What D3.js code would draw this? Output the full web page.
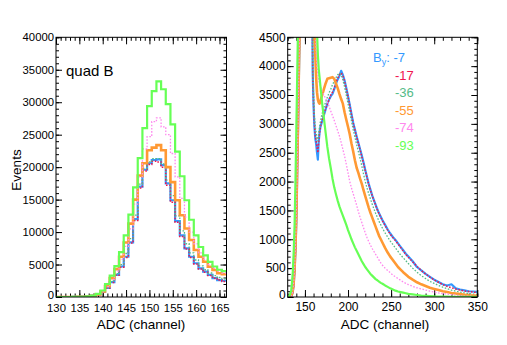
<!DOCTYPE html>
<html><head><meta charset="utf-8">
<script src="https://cdn.jsdelivr.net/npm/d3@7"></script>
<style>body{margin:0;background:#fff}svg{display:block;font-family:"Liberation Sans",Arial,Helvetica,sans-serif}</style>
</head><body><svg id="c" width="507" height="345"></svg>
<script>
// ---------- data ----------
const leftADC = [130,131,132,133,134,135,136,137,138,139,140,141,142,143,144,145,146,147,148,149,150,151,152,153,154,155,156,157,158,159,160,161,162,163,164,165,166];
const lBy7  = [0,0,0,0,10,25,50,100,200,400,800,1400,2300,3400,4700,6200,8400,12000,17000,19600,20600,21100,21200,20300,17500,14900,11700,9500,7500,6200,5200,4400,3900,3400,2900,2600,2500];
const lBy17 = [0,0,0,0,10,20,50,100,200,380,780,1350,2250,3350,4600,6100,8300,11800,16800,19400,20400,20900,20800,20000,17200,14600,11500,9300,7400,6100,5100,4300,3800,3300,2900,2600,2400];
const lBy36 = [0,0,0,0,10,25,55,110,220,430,850,1500,2400,3600,5000,6700,9000,12600,17400,19800,20800,21300,21300,20500,18000,15600,12500,10200,8200,6800,5700,4800,4200,3700,3300,3000,2800];
const lBy55 = [0,0,0,0,10,20,40,80,170,400,850,1700,2900,4300,6200,8400,11300,15000,18700,20600,22600,23000,23400,22600,20000,17700,14900,12600,10560,8770,7230,6200,5430,4670,4150,3650,3500];
const lBy74 = [0,0,0,0,10,20,45,90,180,400,850,1600,2700,4000,5800,7800,10500,14300,18500,22800,24700,27000,27600,26200,25000,22100,18500,15200,12300,10000,8200,6800,5800,5000,4400,4000,3700];
const lBy93 = [0,0,0,0,10,20,40,90,200,480,1000,2000,3300,4750,6900,9500,12700,16900,21400,26000,29400,31700,33200,32000,29700,26600,22400,18600,14900,11900,9500,7700,6400,5400,4700,4200,4000];

const rightADC = [130,132,134,135,136,137,138,139,140,141,142,143,144,146,148,150,152,154,156,158,159,160,161,162,163,164,165,166,167,168,169,170,172,174,176,178,180,182,184,186,188,190,192,194,196,198,200,202,204,206,208,210,212,214,216,218,220,222,224,226,228,230,232,234,236,238,240,243,246,249,252,255,258,261,264,267,270,275,280,285,290,295,300,305,310,315,320,325,330,335,340,345,350];
const rBy7  = [0,0,10, 40,100,220,450,800,1300,2100,2900,3800,4700, 7000,8000,9000,9000,8500,7500,6000, 3900,3300,2950,2750,2650,2500,2380,2700,2850,2950,3000,3050,
  3150,3250,3350,3420,3480,3520,3600,3700,3770,3830,3920,3850,3750,3620,3480,3330,3170,3020,2900,2780,2670,2560,2450,2330,2200,2080,1960,1860,1760,1680,1600,1520,1450,1390,1330,
  1250,1170,1100,1040,990,930,870,810,750,700, 620,520,460,400,350,300,260,220,200,220,150,130,115,100,95,90];
const rBy17 = [0,0,10, 35,90,210,430,780,1280,2050,2850,3750,4650, 6900,7900,8900,8900,8400,7400,5900, 4000,3350,3000,2800,2700,2600,2500,2700,2850,2950,3020,3080,
  3170,3260,3340,3420,3500,3550,3620,3720,3790,3850,3880,3840,3740,3600,3470,3320,3160,3010,2890,2770,2660,2550,2430,2310,2190,2070,1950,1850,1760,1670,1590,1510,1440,1380,1320,
  1240,1160,1090,1030,980,920,860,800,740,690, 610,530,460,400,345,295,255,215,185,160,140,120,105,95,85,80];
const rBy36 = [0,0,10, 40,100,230,470,820,1350,2150,3000,3900,4800, 7100,8200,9100,9100,8600,7600,6200, 4300,3500,3150,2950,2850,2750,2700,2850,2950,3050,3120,3180,
  3280,3380,3460,3540,3600,3680,3740,3800,3850,3880,3850,3760,3640,3500,3350,3200,3050,2900,2770,2640,2520,2400,2270,2130,2000,1890,1790,1700,1610,1530,1450,1380,1310,1250,1190,
  1110,1040,970,910,850,790,730,680,630,580, 500,430,370,320,270,235,200,170,145,120,100,85,70,60,50,45];
const rBy55 = [0,0,15, 50,120,260,500,870,1400,2200,3050,3950,4850, 7200,8400,9300,9300,8800,7800,6600, 5800,5000,4600,4200,3800,3550,3420,3370,3350,3400,3450,3500,
  3600,3700,3780,3790,3800,3810,3780,3700,3620,3520,3430,3350,3200,3070,2950,2820,2660,2520,2370,2240,2150,2050,1960,1850,1750,1650,1550,1460,1380,1300,1220,1140,1060,1000,940,
  850,770,700,640,580,520,475,430,390,350, 300,255,220,190,160,140,120,100,85,70,60,50,40,30,25,20];
const rBy74 = [0,0,15, 50,130,280,520,900,1450,2250,3100,4000,4900, 7400,8600,9500,9600,9200,8300,7200, 6500,5800,5200,4700,4300,4000,3850,3750,3700,3650,3600,3560,
  3500,3440,3380,3300,3220,3140,3060,2970,2880,2790,2680,2560,2440,2300,2150,2000,1890,1790,1690,1590,1480,1380,1290,1200,1110,1030,960,900,840,790,740,690,640,590,550,
  500,460,420,380,350,320,290,260,237,215, 185,160,140,121,100,85,70,60,50,40,32,25,20,15,12,10];
const rBy93 = [0,20,100, 250,450,800,1250,2000,2900,3800,4700,5600,6500, 8000,9000,9800,10000,9800,9200,8200, 7600,7000,6400,5800,5200,4600,4200,3950,3800,3650,3500,3350,
  3100,2850,2600,2400,2230,2050,1900,1780,1670,1570,1490,1410,1330,1250,1160,1080,1000,930,860,800,740,680,620,570,520,480,440,400,370,340,310,290,265,245,230,
  200,175,150,130,110,95,85,75,65,55, 45,35,25,20,15,10,8,6,5,4,3,2,2,1,1,0];

const legendLabels = ["-7","-17","-36","-55","-74","-93"];
const leftXTicks = [130,135,140,145,150,155,160,165];
const leftYTicks = [0,5000,10000,15000,20000,25000,30000,35000,40000];
const rightXTicks = [150,200,250,300,350];
const rightYTicks = [0,500,1000,1500,2000,2500,3000,3500,4000,4500];

// ---------- styles ----------
const colors = ["#3399ff","#f0174f","#55bb88","#ff9933","#ff88ee","#66ff55"];
const widths = [2.2,1.5,1.3,2.6,1.3,2.2];
const dashes = [null,"1.6,1.6","1.6,1.6",null,"1.6,1.6",null];

const svg = d3.select("#c");
const top0 = 37.3, bot0 = 297;
const fmt = d3.format("d");

function panel(id, x, y, xMaj, xMin, yMaj, yMin, fs, yPad, xPad) {
  const [x0, x1] = x.range();
  const g = svg.append("g");
  svg.append("clipPath").attr("id", id).append("rect")
    .attr("x", x0).attr("y", top0).attr("width", x1 - x0).attr("height", bot0 - top0);
  const ax = (a, tr, vals, size, labels, pad) => {
    const axis = a.tickValues(vals).tickSize(size).tickPadding(pad || 3);
    axis.tickFormat(labels ? fmt : "");
    const s = g.append("g").attr("transform", tr).call(axis);
    s.select(".domain").remove();
    s.selectAll("line").attr("stroke", "#000").attr("stroke-width", 1);
    s.selectAll("text").attr("font-size", fs).attr("fill", "#000").attr("font-family", '"Liberation Sans",Arial,sans-serif');
    return s;
  };
  ax(d3.axisBottom(x), `translate(0,${bot0})`, xMaj, -7, true, xPad);
  ax(d3.axisBottom(x), `translate(0,${bot0})`, xMin, -3.5, false);
  ax(d3.axisTop(x), `translate(0,${top0})`, xMaj, -7, false);
  ax(d3.axisTop(x), `translate(0,${top0})`, xMin, -3.5, false);
  const ly = ax(d3.axisLeft(y), `translate(${x0},0)`, yMaj, -6, true, yPad);
  // lift the "0" label slightly so it clears the x tick labels
  ly.selectAll("text").filter(d => d === 0).attr("dy", "0.12em");
  ax(d3.axisLeft(y), `translate(${x0},0)`, yMin, -3, false);
  ax(d3.axisRight(y), `translate(${x1},0)`, yMaj, -6, false);
  ax(d3.axisRight(y), `translate(${x1},0)`, yMin, -3, false);
  return g;
}

// ---------- left panel ----------
const xL = d3.scaleLinear([130, 166.5], [56, 226.5]);
const yL = d3.scaleLinear([0, 40000], [bot0, top0]);
const gL = panel("clipL", xL, yL, leftXTicks, d3.range(130, 167, 1), leftYTicks, d3.range(0, 40001, 1000), "11.3px", 2, 6.5);
const leftSeries = [lBy7, lBy17, lBy36, lBy55, lBy74, lBy93];
const stepLine = d3.line().x(d => xL(d[0])).y(d => yL(d[1]));
leftSeries.forEach((vals, i) => {
  const pts = [];
  leftADC.forEach((a, j) => { pts.push([a - 0.5, vals[j]]); pts.push([a + 0.5, vals[j]]); });
  gL.append("path").attr("clip-path", "url(#clipL)")
    .attr("d", stepLine(pts)).attr("fill", "none")
    .attr("stroke", colors[i]).attr("stroke-width", widths[i])
    .attr("stroke-dasharray", dashes[i]);
});
gL.append("rect").attr("x", 56).attr("y", top0).attr("width", 170.5).attr("height", bot0 - top0)
  .attr("fill", "none").attr("stroke", "#000").attr("stroke-width", 1);
svg.append("text").attr("x", 66).attr("y", 76).attr("font-size", "15px").text("quad B");
svg.append("text").attr("transform", "translate(21,170) rotate(-90)").attr("text-anchor", "middle")
  .attr("font-size", "13.5px").text("Events");
svg.append("text").attr("x", 141).attr("y", 329).attr("text-anchor", "middle").attr("font-size", "13.5px").text("ADC (channel)");

// ---------- right panel ----------
const xR = d3.scaleLinear([130, 350], [287.7, 477.3]);
const yR = d3.scaleLinear([0, 4500], [bot0, top0]);
const gR = panel("clipR", xR, yR, rightXTicks, d3.range(130, 351, 10), rightYTicks, d3.range(0, 4501, 100), "12px", 2, 5);
const rightSeries = [rBy7, rBy17, rBy36, rBy55, rBy74, rBy93];
const rLine = d3.line().x((d, j) => xR(rightADC[j])).y(d => yR(d));
rightSeries.forEach((vals, i) => {
  gR.append("path").attr("clip-path", "url(#clipR)")
    .attr("d", rLine(vals)).attr("fill", "none")
    .attr("stroke", colors[i]).attr("stroke-width", widths[i])
    .attr("stroke-dasharray", dashes[i]).attr("stroke-linejoin", "round");
});
gR.append("rect").attr("x", 287.7).attr("y", top0).attr("width", 477.3 - 287.7).attr("height", bot0 - top0)
  .attr("fill", "none").attr("stroke", "#000").attr("stroke-width", 1);
svg.append("text").attr("x", 385).attr("y", 329).attr("text-anchor", "middle").attr("font-size", "13.5px").text("ADC (channel)");

// legend
const lg = svg.append("g").attr("font-size", "13px");
const t0 = lg.append("text").attr("x", 373).attr("y", 61.5).attr("fill", colors[0]);
t0.append("tspan").text("B");
t0.append("tspan").attr("font-size", "9px").attr("dy", 3).text("y");
t0.append("tspan").attr("dy", -3).text(": " + legendLabels[0]);
legendLabels.slice(1).forEach((lab, i) => {
  lg.append("text").attr("x", 395).attr("y", 80 + i * 17.4).attr("fill", colors[i + 1]).text(lab);
});
</script></body></html>
